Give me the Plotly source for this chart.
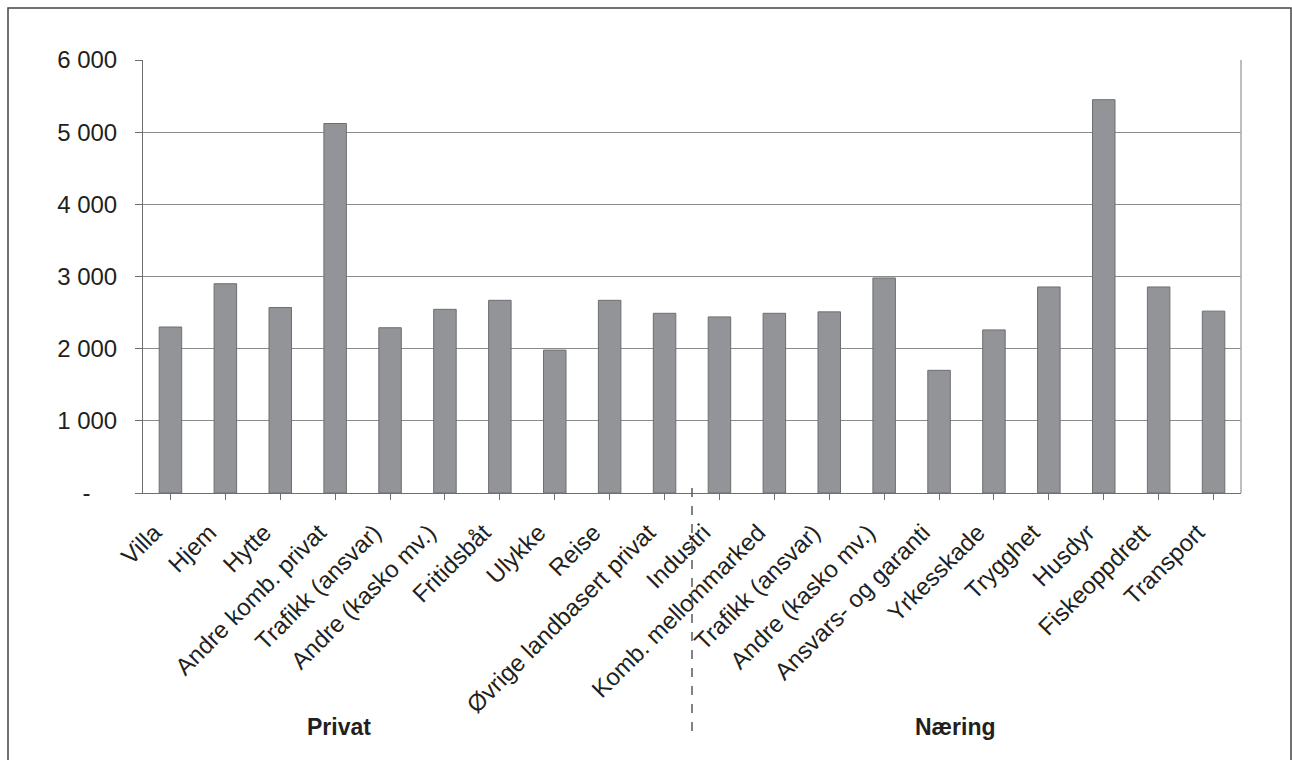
import plotly.graph_objects as go

categories = [
    "Villa", "Hjem", "Hytte", "Andre komb. privat", "Trafikk (ansvar)",
    "Andre (kasko mv.)", "Fritidsbåt", "Ulykke", "Reise", "Øvrige landbasert privat",
    "Industri", "Komb. mellommarked", "Trafikk (ansvar) ", "Andre (kasko mv.) ",
    "Ansvars- og garanti", "Yrkesskade", "Trygghet", "Husdyr", "Fiskeoppdrett", "Transport",
]
values = [
    2300, 2900, 2570, 5120, 2290,
    2545, 2670, 1980, 2670, 2490,
    2440, 2490, 2510, 2980,
    1700, 2260, 2855, 5450, 2855, 2520,
]
y_tickvals = [0, 1000, 2000, 3000, 4000, 5000, 6000]
y_ticktext = ["-\u00a0\u00a0\u00a0\u00a0", "1 000", "2 000", "3 000", "4 000", "5 000", "6 000"]
group_labels = ["Privat", "Næring"]
group_centers = [3.07, 14.3]

W, H = 1292, 760
L, R, T, B = 143, 51, 60, 267
pw, ph = W - L - R, H - T - B


def px_x(px):
    return (px - L) / pw


def px_y(py):
    return (H - B - py) / ph


FAMILY = "Liberation Sans, Arial, sans-serif"
font = dict(family=FAMILY, size=24, color="#231f20")

fig = go.Figure()
fig.add_trace(go.Bar(
    x=list(range(len(categories))),
    y=values,
    marker=dict(color="#939498", line=dict(color="#6d6e71", width=1)),
    width=0.41,
    hoverinfo="x+y",
))

fig.update_layout(
    width=W, height=H,
    margin=dict(l=L, r=R, t=T, b=B, pad=0),
    paper_bgcolor="white", plot_bgcolor="white",
    font=font,
    showlegend=False,
    xaxis=dict(
        tickmode="array",
        tickvals=list(range(len(categories))),
        ticktext=[c.strip() for c in categories],
        tickangle=-45,
        range=[-0.5, len(categories) - 0.5],
        showline=True, linecolor="#6d6e71", linewidth=1,
        ticks="outside", ticklen=6, tickcolor="#6d6e71",
        tickson="boundaries",
        showgrid=False,
        tickfont=font,
        ticklabelshift=-16,
        ticklabelstandoff=9,
    ),
    yaxis=dict(
        range=[0, 6000],
        tickmode="array", tickvals=y_tickvals, ticktext=y_ticktext,
        showline=True, linecolor="#6d6e71", linewidth=1,
        ticks="outside", ticklen=7, tickcolor="#6d6e71",
        showgrid=True, gridcolor="#8a8b8d", gridwidth=1,
        zeroline=False,
        tickfont=font,
        ticklabelstandoff=13,
    ),
)

shapes = [
    # outer frame
    dict(type="rect", xref="paper", yref="paper",
         x0=px_x(8), x1=px_x(1291), y0=px_y(770), y1=px_y(8),
         line=dict(color="#444444", width=1.5), fillcolor="rgba(0,0,0,0)", layer="below"),
    # right border of plot area
    dict(type="line", xref="paper", yref="paper", x0=1, x1=1, y0=0, y1=1,
         line=dict(color="#a7a8aa", width=1.5)),
    # divider between groups
    dict(type="line", xref="x", yref="paper", x0=9.5, x1=9.5,
         y0=px_y(488), y1=px_y(735),
         line=dict(color="#58595b", width=1.5, dash="dash")),
]
fig.update_layout(shapes=shapes)

for lbl, cx in zip(group_labels, group_centers):
    fig.add_annotation(
        x=cx, xref="x", y=px_y(727), yref="paper",
        text=f"<b>{lbl}</b>", showarrow=False,
        font=dict(family=FAMILY, size=23, color="#231f20"),
        xanchor="center", yanchor="middle",
    )

fig.write_html("out.html")
